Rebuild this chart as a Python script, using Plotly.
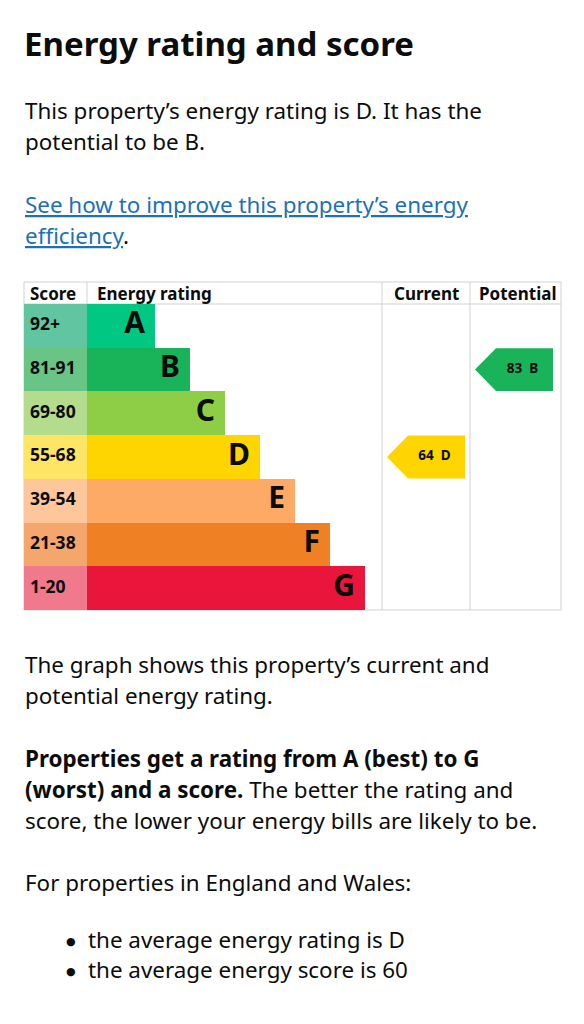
import plotly.graph_objects as go

# ---------------- data ----------------
bands = ["A", "B", "C", "D", "E", "F", "G"]
score_ranges = ["92+", "81-91", "69-80", "55-68", "39-54", "21-38", "1-20"]
band_colors = ["#00c781", "#19b459", "#8dce46", "#ffd500", "#fcaa65", "#ef8023", "#e9153b"]
score_cell_colors = ["#62c5a1", "#68c585", "#b3dc8d", "#ffe566", "#fdc79b", "#f5a66c", "#f07a8b"]
current_score = 64
current_band = "D"
potential_score = 83
potential_band = "B"

title_text = "Energy rating and score"
intro_lines = ["This property\u2019s energy rating is D. It has the", "potential to be B."]
link_lines = ["<u>See how to improve this property\u2019s energy</u>", "<u>efficiency</u><span style='color:#0b0c0c'>.</span>"]
graph_lines = ["The graph shows this property\u2019s current and", "potential energy rating."]
rating_lines = [
    "<b>Properties get a rating from A (best) to G</b>",
    "<b>(worst) and a score.</b> The better the rating and",
    "score, the lower your energy bills are likely to be.",
]
region_line = "For properties in England and Wales:"
bullet_lines = ["the average energy rating is D", "the average energy score is 60"]
header_labels = ["Score", "Energy rating", "Current", "Potential"]

# ---------------- layout constants ----------------
W, H = 584, 1024
OFF = 8  # page body margin of the html page
TABLE_L, SCORE_R, CUR_L, POT_L, TABLE_R = 24, 87, 382, 470, 561
HEAD_TOP, ROWS_TOP, ROWS_BOT = 282, 304, 610
BAR_W0, BAR_STEP = 68, 35
TXT = "#0b0c0c"
LINK = "#1d70b8"
GRID = "#cfd1d2"
FONT = "Noto Sans"
BODY = 22.4


def py(px):
    return 1 - (px - OFF) / H


def pxx(px):
    return (px - OFF) / W


n = len(bands)
idx = list(range(n))
bar_len = [BAR_W0 + BAR_STEP * i for i in idx]

fig = go.Figure()

# score cells
fig.add_trace(go.Bar(
    y=idx, x=[SCORE_R - TABLE_L] * n, base=TABLE_L, orientation="h", width=1,
    marker=dict(color=score_cell_colors, line=dict(width=0)), hoverinfo="skip",
    text=score_ranges, textposition="none",
))
# rating bars
fig.add_trace(go.Bar(
    y=idx, x=bar_len, base=SCORE_R, orientation="h", width=1,
    marker=dict(color=band_colors, line=dict(width=0)), hoverinfo="skip",
))
# score labels
fig.add_trace(go.Scatter(
    x=[TABLE_L + 6] * n, y=idx, mode="text", text=score_ranges, textposition="middle right",
    textfont=dict(family=FONT, size=17.5, color=TXT, weight="bold"), hoverinfo="skip",
))
# band letters
fig.add_trace(go.Scatter(
    x=[SCORE_R + L - 10 for L in bar_len], y=idx, mode="text", text=bands,
    textposition="middle left",
    textfont=dict(family=FONT, size=30, color=TXT, weight="bold"), hoverinfo="skip",
))


def arrow(col_left, score, band):
    i = bands.index(band)
    tip = col_left + 5
    point = tip + 21
    right = tip + 78
    h = 0.49
    xs = [tip, point, right, right, point, tip]
    ys = [i, i - h, i - h, i + h, i + h, i]
    c = band_colors[i]
    fig.add_trace(go.Scatter(
        x=xs, y=ys, mode="lines", fill="toself", fillcolor=c,
        line=dict(color=c, width=0), hoverinfo="skip",
    ))
    fig.add_trace(go.Scatter(
        x=[(point + right) / 2 - 2], y=[i], mode="text",
        text=[f"{score}\u00a0\u00a0{band}"], textposition="middle center",
        textfont=dict(family=FONT, size=13.5, color=TXT, weight="bold"), hoverinfo="skip",
    ))


arrow(CUR_L, current_score, current_band)
arrow(POT_L, potential_score, potential_band)

# table lines
shapes = []
for yy in (HEAD_TOP, ROWS_TOP, ROWS_BOT):
    shapes.append(dict(type="line", xref="x", yref="paper", x0=TABLE_L, x1=TABLE_R,
                       y0=py(yy), y1=py(yy), line=dict(color=GRID, width=1), layer="below"))
for xx in (TABLE_L, CUR_L, POT_L, TABLE_R):
    shapes.append(dict(type="line", xref="x", yref="paper", x0=xx, x1=xx,
                       y0=py(HEAD_TOP), y1=py(ROWS_BOT), line=dict(color=GRID, width=1), layer="below"))
shapes.append(dict(type="line", xref="x", yref="paper", x0=SCORE_R, x1=SCORE_R,
                   y0=py(HEAD_TOP), y1=py(ROWS_TOP), line=dict(color=GRID, width=1), layer="below"))

ann = []


def text(s, x, y, size, color=TXT, bold=False, anchor="left", family=FONT):
    ann.append(dict(text=s, x=pxx(x), y=py(y), xref="paper", yref="paper",
                    xanchor=anchor, yanchor="middle", showarrow=False,
                    font=dict(family=family, size=size, color=color, weight="bold" if bold else "normal")))


text(title_text, 22, 43, 33, bold=True)
for k, s in enumerate(intro_lines):
    text(s, 23, 110 + 31 * k, BODY)
for k, s in enumerate(link_lines):
    text(s, 23, 204 + 31 * k, BODY, color=LINK)
for k, s in enumerate(graph_lines):
    text(s, 23, 664 + 31 * k, BODY)
for k, s in enumerate(rating_lines):
    text(s, 23, 758 + 31 * k, BODY)
text(region_line, 23, 882, BODY)
for k, s in enumerate(bullet_lines):
    text("\u25cf", 71, 941 + 30 * k, 11, anchor="center", family="DejaVu Sans")
    text(s, 86, 939 + 30 * k, BODY)

# headers
hy = (HEAD_TOP + ROWS_TOP) / 2
text(header_labels[0], TABLE_L + 4, hy, 17, bold=True)
text(header_labels[1], SCORE_R + 8, hy, 17, bold=True)
text(header_labels[2], (CUR_L + POT_L) / 2, hy, 17, bold=True, anchor="center")
text(header_labels[3], (POT_L + TABLE_R) / 2 + 2, hy, 17, bold=True, anchor="center")

fig.update_layout(
    width=W, height=H, margin=dict(l=0, r=0, t=0, b=0),
    paper_bgcolor="white", plot_bgcolor="white", showlegend=False,
    barmode="overlay", bargap=0,
    xaxis=dict(range=[OFF, OFF + W], domain=[0, 1], visible=False, fixedrange=True),
    yaxis=dict(range=[n - 0.5, -0.5], domain=[py(ROWS_BOT), py(ROWS_TOP)], visible=False, fixedrange=True),
    shapes=shapes, annotations=ann,
    font=dict(family=FONT, color=TXT),
)

fig.write_html("out.html")
